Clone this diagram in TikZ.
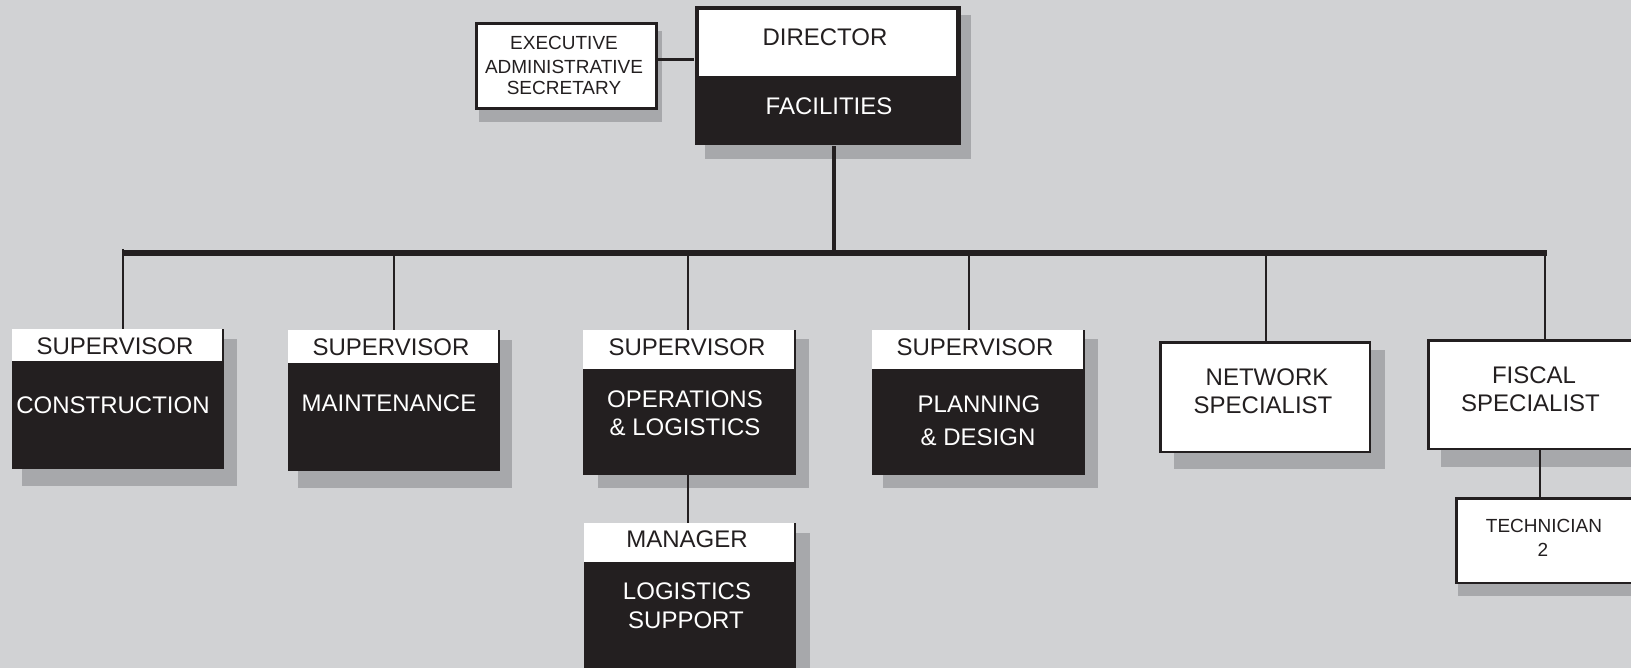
\documentclass[tikz,border=0pt]{standalone}
\usepackage{fontspec}
\setmainfont{Liberation Sans}
\definecolor{bg}{HTML}{D1D2D4}
\definecolor{shd}{HTML}{A7A8AB}
\definecolor{ink}{HTML}{231F20}
\tikzset{
  lbl/.style={inner sep=0pt, anchor=base, font=\fontsize{24}{28}\selectfont},
  lw/.style={lbl, text=white},
  lk/.style={lbl, text=ink},
  sk/.style={inner sep=0pt, anchor=base, font=\fontsize{19}{22}\selectfont, text=ink},
  darkbox/.style={draw=ink, fill=ink, line width=2.5pt, inner sep=0pt, anchor=north west},
  whitebox/.style={draw=ink, fill=white, line width=2.5pt, inner sep=0pt, anchor=north west},
  hdr/.style={fill=white, draw=none, inner sep=0pt, anchor=north west},
  conn/.style={draw=ink, line width=2.5pt},
  trunk/.style={draw=ink, line width=4.5pt},
  busline/.style={draw=ink, line width=6pt},
}
\begin{document}
\begin{tikzpicture}[x=1pt,y=-1pt]
\useasboundingbox (0,0) rectangle (1631,668);
\fill[bg] (0,0) rectangle (1631,668);
% shadows
\fill[shd] (479,31) rectangle (662,122);
\fill[shd] (705,15) rectangle (971,159);
\fill[shd] (22,339) rectangle (237,486);
\fill[shd] (298,340) rectangle (512,488);
\fill[shd] (598,339) rectangle (809,488);
\fill[shd] (883,339) rectangle (1098,488);
\fill[shd] (1174,350) rectangle (1385,469);
\fill[shd] (1441,348) rectangle (1640,467);
\fill[shd] (598,533) rectangle (810,690);
\fill[shd] (1458,506) rectangle (1640,596);
% executive secretary
\node[whitebox, line width=3pt, minimum width=180, minimum height=85] (exe) at (474.5,22.5) {};
\node[sk] (exe1) at (564,49.8) {EXECUTIVE};
\node[sk] (exe2) at (564,73.8) {ADMINISTRATIVE};
\node[sk] (exe3) at (564,94.8) {SECRETARY};
% director
\node[darkbox, draw=none, minimum width=266, minimum height=139] (dir) at (694,5) {};
\node[hdr, minimum width=256.5, minimum height=66.5] (dirh) at (699,9.5) {};
\node[lk] (dir1) at (825,45.6) {DIRECTOR};
\node[lw] (dir2) at (829,114.6) {FACILITIES};
% construction
\node[darkbox, minimum width=209.5, minimum height=137.5] (con) at (12.25,329.25) {};
\node[hdr, minimum width=209.5, minimum height=31.5] (conh) at (12.25,329.25) {};
\node[lk] (con1) at (115,354.6) {SUPERVISOR};
\node[lw] (con2) at (113,413.6) {CONSTRUCTION};
% maintenance
\node[darkbox, minimum width=209.5, minimum height=138.5] (mai) at (288.25,330.25) {};
\node[hdr, minimum width=209.5, minimum height=32.5] (maih) at (288.25,330.25) {};
\node[lk] (mai1) at (391,355.6) {SUPERVISOR};
\node[lw] (mai2) at (389,411.6) {MAINTENANCE};
% operations
\node[darkbox, minimum width=210.5, minimum height=142.5] (ops) at (583.25,330.25) {};
\node[hdr, minimum width=210.5, minimum height=38.5] (opsh) at (583.25,330.25) {};
\node[lk] (ops1) at (687,355.6) {SUPERVISOR};
\node[lw] (ops2) at (685,407.6) {OPERATIONS};
\node[lw] (ops3) at (685,435.6) {\& LOGISTICS};
% planning
\node[darkbox, minimum width=210.5, minimum height=142.5] (pla) at (872.25,330.25) {};
\node[hdr, minimum width=210.5, minimum height=38.5] (plah) at (872.25,330.25) {};
\node[lk] (pla1) at (975,355.6) {SUPERVISOR};
\node[lw] (pla2) at (979,412.6) {PLANNING};
\node[lw] (pla3) at (978,445.6) {\& DESIGN};
% manager
\node[darkbox, minimum width=209.5, minimum height=170] (mgr) at (584.25,523.25) {};
\node[hdr, minimum width=209.5, minimum height=38.5] (mgrh) at (584.25,523.25) {};
\node[lk] (mgr1) at (687,547.6) {MANAGER};
\node[lw] (mgr2) at (687,599.6) {LOGISTICS};
\node[lw] (mgr3) at (686,628.6) {SUPPORT};
% network
\node[whitebox, minimum width=209.5, minimum height=109.5] (net) at (1159.25,341.25) {};
\node[lk] (net1) at (1267,385.6) {NETWORK};
\node[lk] (net2) at (1263,413.6) {SPECIALIST};
% fiscal
\node[whitebox, minimum width=219, minimum height=108.5] (fis) at (1427.25,339.25) {};
\node[lk] (fis1) at (1534,383.6) {FISCAL};
\node[lk] (fis2) at (1530.5,411.6) {SPECIALIST};
% technician
\node[whitebox, minimum width=192, minimum height=84.5] (tec) at (1455.25,497.25) {};
\node[sk] (tec1) at (1544,532.8) {TECHNICIAN};
\node[sk] (tec2) at (1543,556.8) {2};
% connectors
\coordinate (barL) at (124,253);
\coordinate (barR) at (1547,253);
\coordinate (bd) at (834,253);
\coordinate (d1) at (123,249);
\coordinate (d2) at (394,253);
\coordinate (d3) at (688,253);
\coordinate (d4) at (969,253);
\coordinate (d5) at (1266,253);
\coordinate (d6) at (1545,253);
\coordinate (ft) at (1540,452);
\draw[conn] ([yshift=7pt]exe.east) -- ([yshift=7pt]exe.east -| dir.west);
\draw[trunk] (bd |- dir.south) -- (bd);
\draw[busline] (barL) -- (barR);
\draw[conn] (d1) -- (d1 |- con.north);
\draw[conn] (d2) -- (d2 |- mai.north);
\draw[conn] (d3) -- (d3 |- ops.north);
\draw[conn] (d4) -- (d4 |- pla.north);
\draw[conn] (d5) -- (d5 |- net.north);
\draw[conn] (d6) -- (d6 |- fis.north);
\draw[conn] (d3 |- ops.south) -- (d3 |- mgr.north);
\draw[conn] (ft |- fis.south) -- (ft |- tec.north);
\end{tikzpicture}
\end{document}
